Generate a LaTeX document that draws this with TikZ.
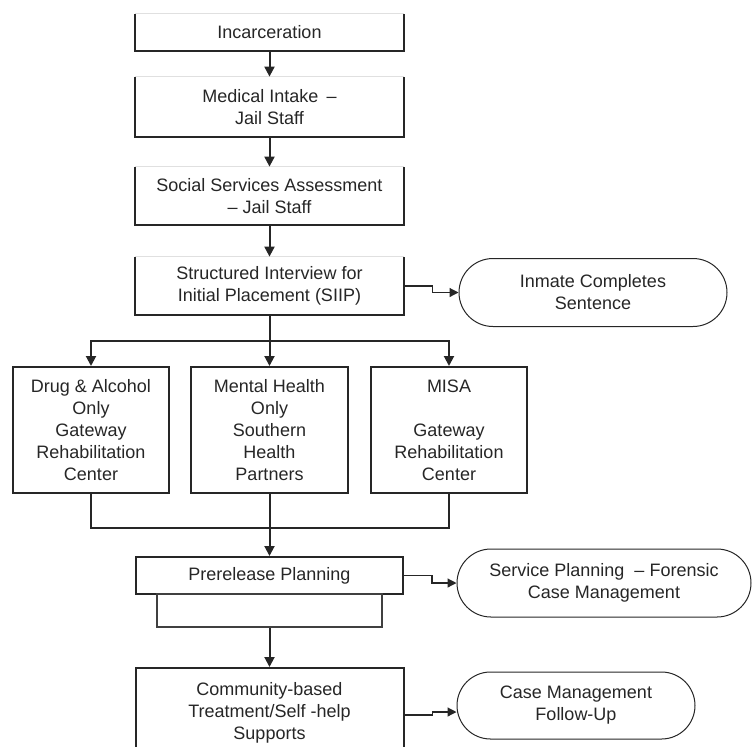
\documentclass[tikz,border=0pt]{standalone}
\usepackage{fontspec}
\setmainfont{Liberation Sans}
\usetikzlibrary{arrows.meta,positioning,shapes.misc}

\begin{document}
\begin{tikzpicture}[x=0.5pt,y=-0.5pt,
    font=\fontsize{9}{11}\selectfont, text=black!85,
    box/.style={draw=black!85,line width=1pt,inner sep=0pt,align=center},
    opentop/.style={inner sep=0pt,align=center},
    oval/.style={draw=black!85,line width=0.5pt,rounded rectangle,inner sep=0pt,align=center},
    arr/.style={draw=black!85,line width=1pt,-{Triangle[length=5pt,width=5pt]}},
    sidearr/.style={draw=black!85,line width=0.6pt,-{Triangle[length=4.5pt,width=4.5pt]}},
    line/.style={draw=black!85,line width=1pt},
    faint/.style={draw=black!12,line width=0.6pt}]
  \clip (0,0) rectangle (756,746);
  % main column
  \node[opentop,minimum width=134.5pt,minimum height=18.5pt] (inc) at (269.5,32.5) {Incarceration};
  \node[opentop,minimum width=134.5pt,minimum height=30pt] (med) at (269.5,107) {Medical Intake \,--\\Jail Staff};
  \node[opentop,minimum width=134.5pt,minimum height=29pt] (soc) at (269.5,196) {Social Services Assessment\\-- Jail Staff};
  \node[opentop,minimum width=134.5pt,minimum height=29pt] (siip) at (269.5,286) {Structured Interview for\\Initial Placement (SIIP)};
  \foreach \n in {inc,med,soc,siip}{
    \draw[line] (\n.north west) -- (\n.south west) -- (\n.south east) -- (\n.north east);
    \draw[faint] (\n.north west) -- (\n.north east);}
  % three programs
  \node[box,minimum width=78pt,minimum height=63pt] (dna) at (91,430) {Drug \& Alcohol\\Only\\Gateway\\Rehabilitation\\Center};
  \node[box,minimum width=78.5pt,minimum height=63pt] (mh) at (269.5,430) {Mental Health\\Only\\Southern\\Health\\Partners};
  \node[box,minimum width=78pt,minimum height=63pt] (misa) at (449,430) {MISA\\[11pt]Gateway\\Rehabilitation\\Center};
  % release
  \node[box,minimum width=133.5pt,minimum height=18.5pt] (pre) at (269.5,575.5) {Prerelease Planning};
  \node[box,draw=black!75,line width=0.7pt,minimum width=112.5pt,minimum height=16.5pt] (pre2) at (269.5,610.5) {};
  \node[box,minimum width=134pt,minimum height=45pt] (com) at (269.5,713) {Community-based\\Treatment/Self -help\\Supports};
  % outcomes
  \node[oval,minimum width=134pt,minimum height=34pt] (done) at (593,292.5) {Inmate Completes\\Sentence};
  \node[oval,minimum width=147pt,minimum height=34pt] (svc) at (604,583) {Service Planning\ \ -- Forensic\\Case Management};
  \node[oval,minimum width=119pt,minimum height=33.5pt] (fol) at (576,705.5) {Case Management\\Follow-Up};

  \draw[arr] (inc) -- (med);
  \draw[arr] (med) -- (soc);
  \draw[arr] (soc) -- (siip);
  \coordinate (split) at (269.5,341);
  \draw[line] (siip) -- (split);
  \draw[arr] (split) -| (dna);
  \draw[arr] (split) -- (mh);
  \draw[arr] (split) -| (misa);
  \coordinate (join) at (269.5,527.5);
  \draw[line] (dna) |- (join) -| (misa);
  \draw[arr] (mh) -- (pre);
  \draw[arr] (pre2) -- (com);
  \draw[sidearr] (siip.east) -- ++(28,0) |- (done);
  \draw[sidearr] (pre.east) -- ++(28,0) |- (svc);
  \draw[sidearr] ([yshift=-1pt]com.east) -- ++(28,0) |- ([yshift=-3.25pt]fol.west);
\end{tikzpicture}
\end{document}
